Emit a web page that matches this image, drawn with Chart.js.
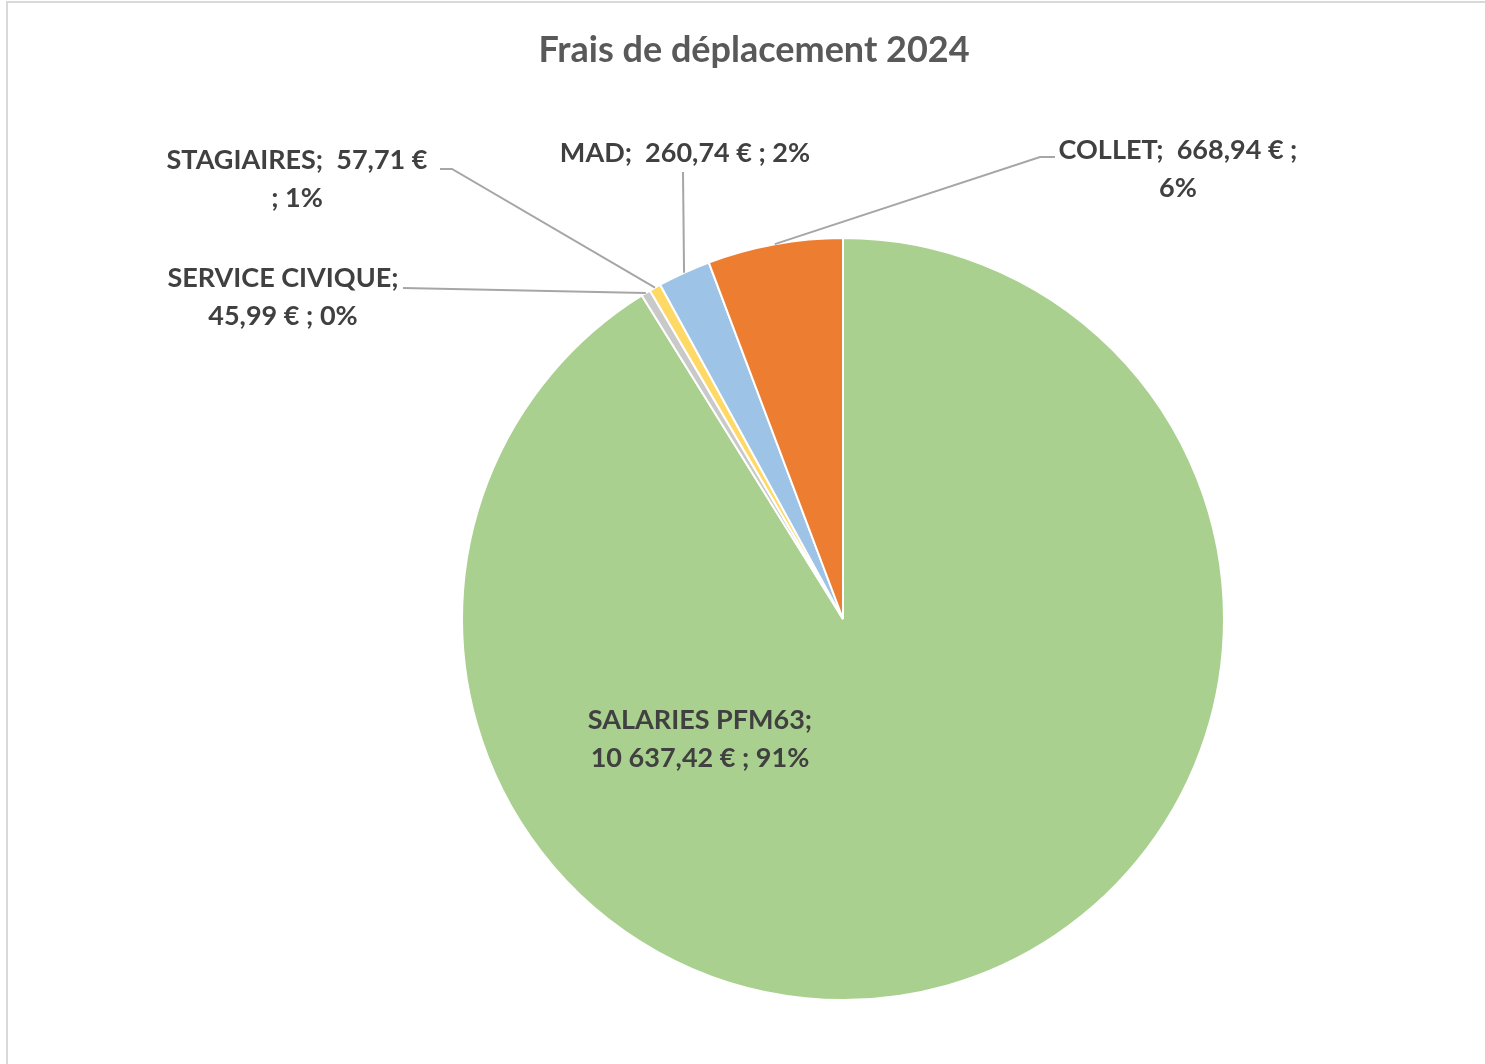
<!DOCTYPE html>
<html lang="fr">
<head>
<meta charset="utf-8">
<title>Frais de déplacement 2024</title>
<script src="https://cdn.jsdelivr.net/npm/chart.js@4/dist/chart.umd.min.js"></script>
<style>
  html, body { margin: 0; padding: 0; background: #ffffff; }
  #wrap { position: relative; width: 1485px; height: 1064px; }
</style>
</head>
<body>
<div id="wrap"><canvas id="chart" width="1485" height="1064"></canvas></div>
<script>
// Travel expenses 2024, by category (clockwise from 12 o'clock)
const categories = ['SALARIES PFM63', 'SERVICE CIVIQUE', 'STAGIAIRES', 'MAD', 'COLLET'];
const amounts = [10637.42, 45.99, 57.71, 260.74, 668.94];
const percentLabels = ['91%', '0%', '1%', '2%', '6%'];
const sliceColors = ['#A9D08E', '#C9C9C9', '#FFD966', '#9DC3E6', '#ED7D31'];
const chartTitle = 'Frais de déplacement 2024';

const FONT = 'Lato, "Open Sans", "DejaVu Sans", sans-serif';

function euro(v) {
  const [ip, dp] = v.toFixed(2).split('.');
  const grouped = ip.replace(/\B(?=(\d{3})+(?!\d))/g, ' ');
  return grouped + ',' + dp + ' €';
}

// Label placement: line breaks, centre of the text block, leader line route
const labelLayout = [
  { lines: (n, v, p) => [n + ';', v + ' ; ' + p], x: 700, y: 720, leader: null },
  { lines: (n, v, p) => [n + ';', v + ' ; ' + p], x: 283, y: 278,
    leader: [[403, 288]] },
  { lines: (n, v, p) => [n + ';  ' + v, '; ' + p], x: 297, y: 160,
    leader: [[440, 169], [452, 169]] },
  { lines: (n, v, p) => [n + ';  ' + v + ' ; ' + p], x: 685, y: 153,
    leader: [[683, 172]] },
  { lines: (n, v, p) => [n + ';  ' + v + ' ;', p], x: 1178, y: 150,
    leader: [[1055, 157], [1040, 157]] }
];

const decorPlugin = {
  id: 'decor',
  beforeDraw(chart) {
    const ctx = chart.ctx;
    ctx.save();
    ctx.fillStyle = '#ffffff';
    ctx.fillRect(0, 0, chart.width, chart.height);
    ctx.strokeStyle = '#d9d9d9';
    ctx.lineWidth = 2;
    ctx.beginPath();
    ctx.moveTo(7, chart.height);
    ctx.lineTo(7, 2);
    ctx.lineTo(chart.width, 2);
    ctx.stroke();
    ctx.restore();
  },
  afterDraw(chart) {
    const ctx = chart.ctx;
    const meta = chart.getDatasetMeta(0);
    ctx.save();
    // title
    ctx.fillStyle = '#595959';
    ctx.font = 'bold 36px ' + FONT;
    ctx.textAlign = 'center';
    ctx.textBaseline = 'middle';
    ctx.fillText(chartTitle, 754, 50);

    meta.data.forEach((arc, i) => {
      const lay = labelLayout[i];
      const p = arc.getProps(['x', 'y', 'startAngle', 'endAngle', 'outerRadius'], true);
      const mid = (p.startAngle + p.endAngle) / 2;
      if (lay.leader) {
        const ex = p.x + Math.cos(mid) * p.outerRadius;
        const ey = p.y + Math.sin(mid) * p.outerRadius;
        ctx.strokeStyle = '#a6a6a6';
        ctx.lineWidth = 2;
        ctx.beginPath();
        ctx.moveTo(lay.leader[0][0], lay.leader[0][1]);
        for (let k = 1; k < lay.leader.length; k++) ctx.lineTo(lay.leader[k][0], lay.leader[k][1]);
        ctx.lineTo(ex, ey);
        ctx.stroke();
      }
      const lines = lay.lines(categories[i], euro(amounts[i]), percentLabels[i]);
      ctx.fillStyle = '#404040';
      ctx.font = 'bold 27px ' + FONT;
      ctx.textAlign = 'center';
      ctx.textBaseline = 'middle';
      lines.forEach((t, k) => ctx.fillText(t, lay.x, lay.y + k * 38.5));
    });
    ctx.restore();
  }
};

new Chart(document.getElementById('chart'), {
  type: 'pie',
  data: {
    labels: categories,
    datasets: [{
      data: amounts,
      backgroundColor: sliceColors,
      borderColor: '#ffffff',
      borderWidth: 2
    }]
  },
  options: {
    responsive: false,
    animation: false,
    rotation: 0,
    layout: { padding: { left: 461, right: 260, top: 237, bottom: 63 } },
    plugins: {
      legend: { display: false },
      title: { display: false },
      tooltip: { enabled: false }
    }
  },
  plugins: [decorPlugin]
});
</script>
</body>
</html>
